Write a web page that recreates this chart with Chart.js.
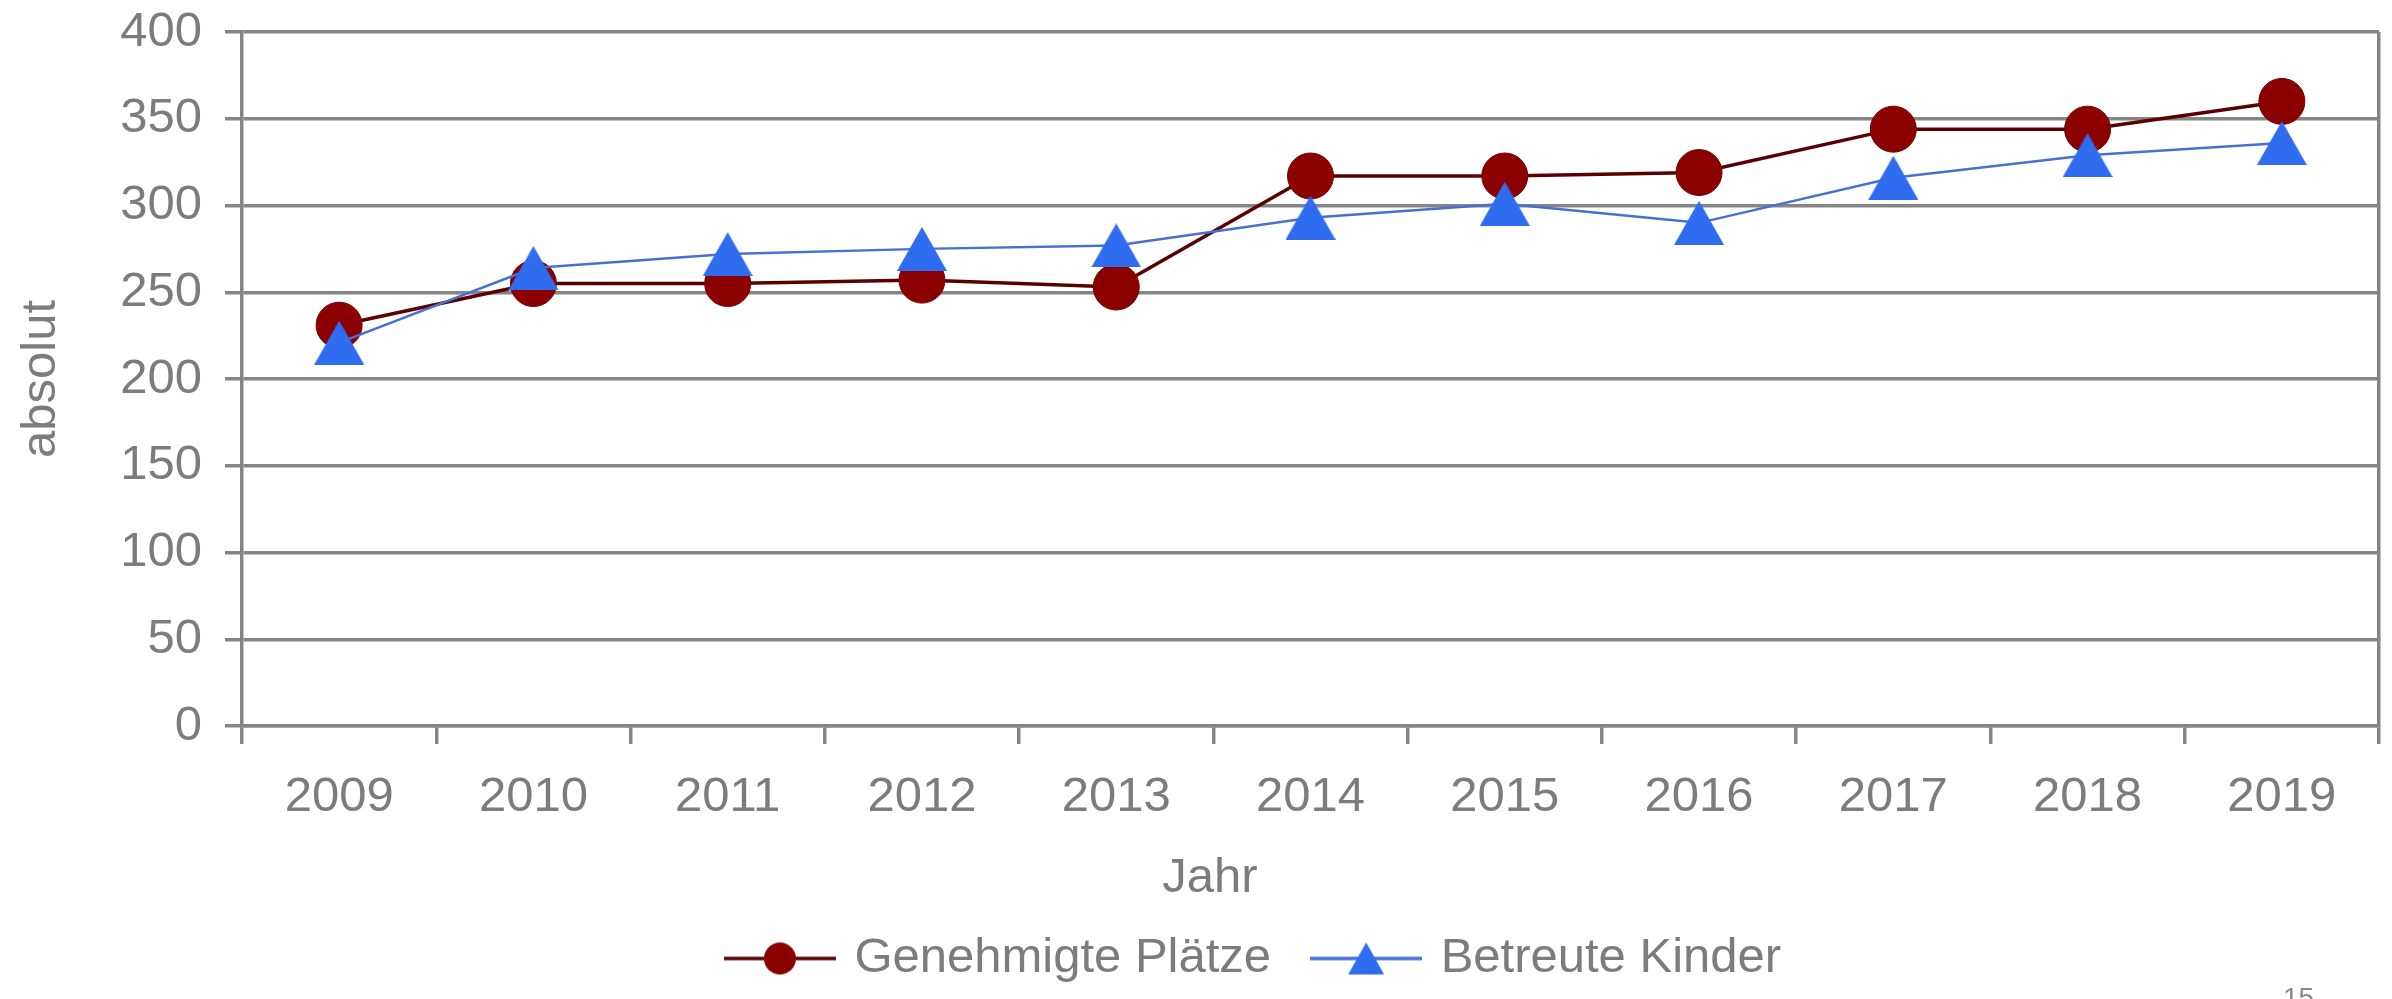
<!DOCTYPE html>
<html>
<head>
<meta charset="utf-8">
<script src="https://cdn.jsdelivr.net/npm/chart.js@4.4.1/dist/chart.umd.min.js"></script>
<style>
  html, body { margin: 0; padding: 0; background: #fff; }
  #wrap { position: relative; width: 2392px; height: 999px; overflow: hidden; }
  #pageNo { position: absolute; left: 2283px; top: 984px; font: 28px "Liberation Sans", Arial, sans-serif; line-height: 28px; color: #8a8a8a; }
</style>
</head>
<body>
<div id="wrap">
  <canvas id="chart"></canvas>
  <div id="pageNo">15</div>
</div>
<script>
// data
const years = ["2009", "2010", "2011", "2012", "2013", "2014", "2015", "2016", "2017", "2018", "2019"];
const genehmigtePlaetze = [231, 255, 255, 257, 253, 317, 317, 319, 344, 344, 360];
const betreuteKinder = [221, 264, 272, 275, 277, 293, 301, 290, 316, 329, 336];
const seriesNames = ["Genehmigte Plätze", "Betreute Kinder"];
const yMin = 0, yMax = 400, yStep = 50;
const yTitle = "absolut";
const xTitle = "Jahr";

const GRAY = "#7c7c7c";
const GRID = "#858585";
const RED_FILL = "#8b0000";
const RED_LINE = "#5a0000";
const BLUE_FILL = "#2f6cf0";
const BLUE_LINE = "#4670d6";
const FONT = '"Liberation Sans", Arial, sans-serif';
const FS = 49;

// marker drawn as a small canvas so the triangle sits centred on the value
function triangleMarker(w, h, color) {
  const c = document.createElement("canvas");
  c.width = w; c.height = h;
  const g = c.getContext("2d");
  g.fillStyle = color;
  g.beginPath();
  g.moveTo(0, h); g.lineTo(w / 2, 0); g.lineTo(w, h);
  g.closePath(); g.fill();
  return c;
}

// legend sample: line with marker in the middle
function legendSample(kind) {
  const c = document.createElement("canvas");
  c.width = 112; c.height = 38;
  const g = c.getContext("2d");
  g.strokeStyle = kind === "circle" ? RED_LINE : BLUE_LINE;
  g.lineWidth = 3.5;
  g.beginPath(); g.moveTo(0, 19); g.lineTo(112, 19); g.stroke();
  if (kind === "circle") {
    g.fillStyle = RED_FILL;
    g.beginPath(); g.arc(56, 19, 16, 0, Math.PI * 2); g.fill();
  } else {
    g.fillStyle = BLUE_FILL;
    g.beginPath();
    g.moveTo(38, 35); g.lineTo(56, 3); g.lineTo(74, 35);
    g.closePath(); g.fill();
  }
  return c;
}

const triPoint = triangleMarker(50, 44, BLUE_FILL);
const legendRed = legendSample("circle");
const legendBlue = legendSample("triangle");

const extraText = {
  id: "extraText",
  afterLayout(chart) {
    // nudge legend to the right like the original
    chart.legend.left += 66;
    chart.legend.right += 66;
    chart.legend.top -= 5;
    chart.legend.bottom -= 5;
  },
  afterDraw(chart) {
    const ctx = chart.ctx;
    ctx.save();
    ctx.font = FS + "px " + FONT;
    ctx.fillStyle = GRAY;
    ctx.textAlign = "center";
    ctx.textBaseline = "middle";
    ctx.fillText(xTitle, chart.width / 2 + 14, chart.chartArea.bottom + 152);
    ctx.restore();
  }
};

new Chart(document.getElementById("chart"), {
  type: "line",
  data: {
    labels: years,
    datasets: [
      {
        label: seriesNames[0],
        data: genehmigtePlaetze,
        borderColor: RED_LINE,
        borderWidth: 3.5,
        pointStyle: "circle",
        pointRadius: 23,
        pointBackgroundColor: RED_FILL,
        pointBorderColor: "#760000",
        pointBorderWidth: 1,
        order: 1
      },
      {
        label: seriesNames[1],
        data: betreuteKinder,
        borderColor: BLUE_LINE,
        borderWidth: 2.5,
        pointStyle: triPoint,
        pointRadius: 23,
        order: 0
      }
    ]
  },
  options: {
    responsive: true,
    maintainAspectRatio: false,
    animation: false,
    events: [],
    layout: { autoPadding: false, padding: { top: 32, right: 13, bottom: 1, left: 0 } },
    plugins: {
      tooltip: { enabled: false },
      legend: {
        position: "bottom",
        labels: {
          usePointStyle: true,
          pointStyleWidth: 100,
          padding: 45,
          color: GRAY,
          font: { family: FONT, size: FS },
          generateLabels: () => [
            { text: seriesNames[0], pointStyle: legendRed, fillStyle: RED_FILL, strokeStyle: RED_FILL, lineWidth: 0, hidden: false, datasetIndex: 0, fontColor: GRAY },
            { text: seriesNames[1], pointStyle: legendBlue, fillStyle: BLUE_FILL, strokeStyle: BLUE_FILL, lineWidth: 0, hidden: false, datasetIndex: 1, fontColor: GRAY }
          ]
        }
      }
    },
    scales: {
      x: {
        offset: true,
        afterFit: (scale) => { scale.height = 168; },
        grid: {
          offset: true,
          drawOnChartArea: true,
          color: (ctx) => (ctx.tick ? "rgba(0,0,0,0)" : GRID),
          tickColor: GRID,
          lineWidth: 3.5,
          tickLength: 18
        },
        border: { display: true, color: GRID, width: 3.5 },
        ticks: { padding: 24, color: GRAY, font: { family: FONT, size: FS } }
      },
      y: {
        min: yMin,
        max: yMax,
        afterFit: (scale) => {
          scale.width = 242;
          scale.paddingTop = 0;
          scale.paddingBottom = 0;
        },
        grid: { color: GRID, lineWidth: 3.5, tickLength: 17, tickColor: GRID },
        border: { display: true, color: GRID, width: 3.5 },
        ticks: { stepSize: yStep, padding: 23, color: GRAY, font: { family: FONT, size: FS } },
        title: { display: true, text: yTitle, color: GRAY, font: { family: FONT, size: FS }, padding: { top: 12, bottom: 0 } }
      }
    }
  },
  plugins: [extraText]
});
</script>
</body>
</html>
